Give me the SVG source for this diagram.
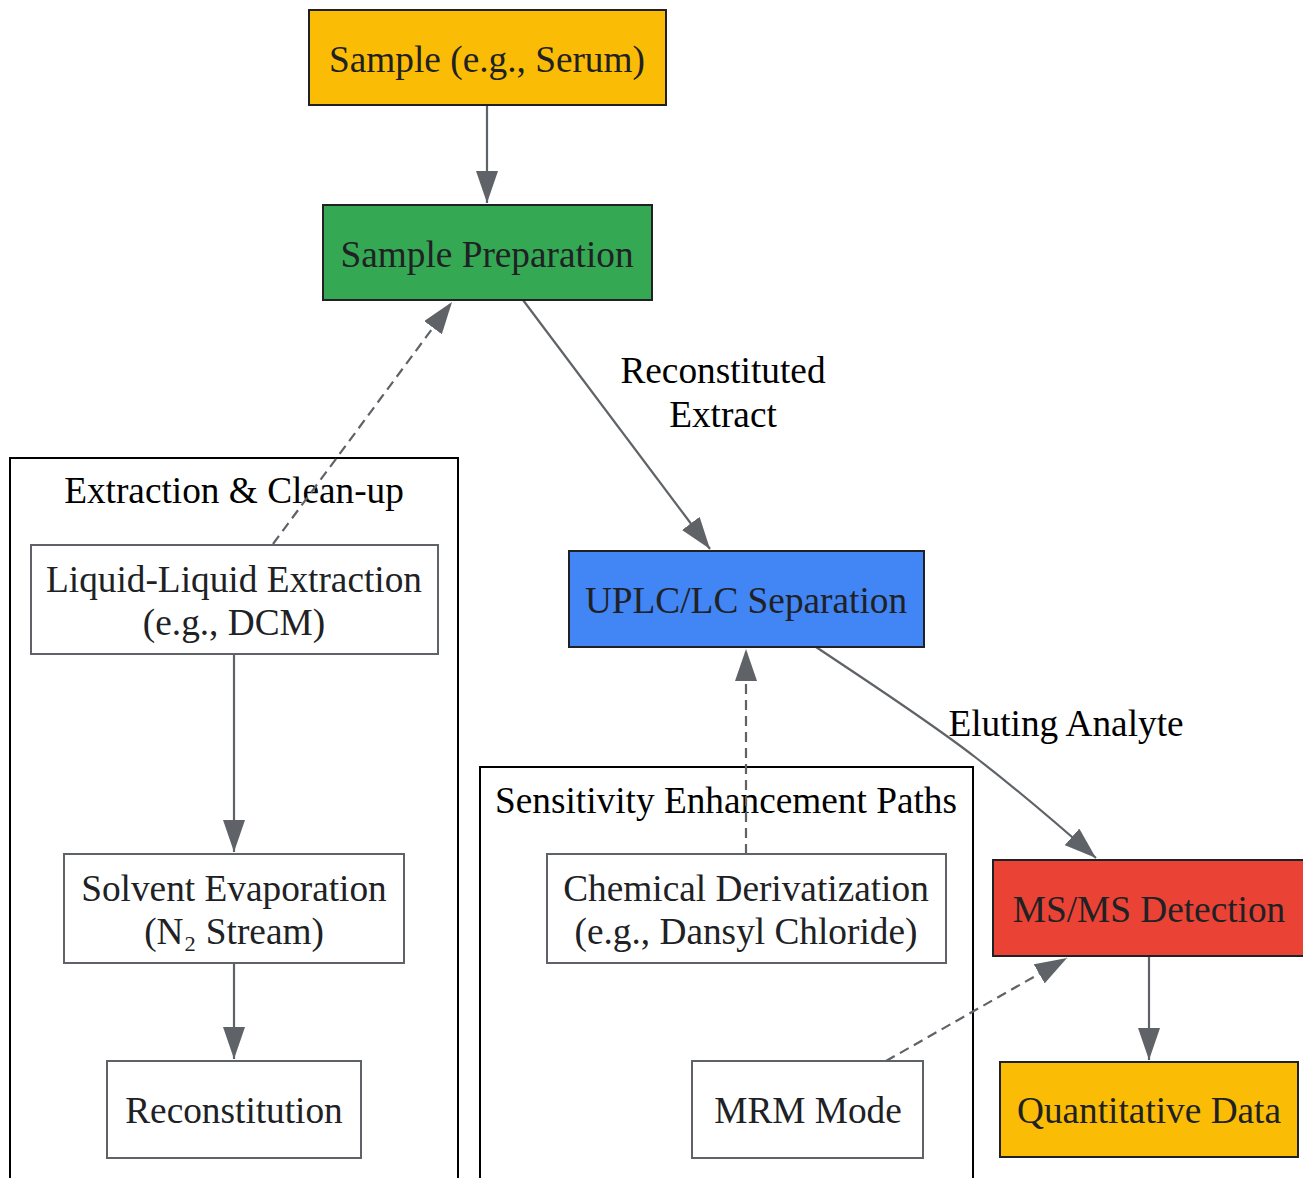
<svg xmlns="http://www.w3.org/2000/svg" width="1303" height="1178" viewBox="0 0 1303 1178">
<style>
text{font-family:"Liberation Serif","Times New Roman",serif;font-size:37.3px;text-anchor:middle}
.nt{fill:#202124}
.lt{fill:#000}
.cl{fill:none;stroke:#000;stroke-width:2}
.wn{fill:#fff;stroke:#5F6368;stroke-width:2}
.cn{stroke:#202124;stroke-width:2}
.e{fill:none;stroke:#5F6368;stroke-width:2.2}
.d{stroke-dasharray:10,6}
</style>
<defs>
<marker id="ah" markerUnits="userSpaceOnUse" markerWidth="32" markerHeight="22" refX="32" refY="11" orient="auto">
<path d="M0,0 L32,11 L0,22 z" fill="#5F6368"/>
</marker>
</defs>
<rect width="1303" height="1178" fill="#fff"/>
<g id="cluster_extraction">
<rect class="cl" x="10" y="458" width="448" height="730"/>
<text class="lt" x="234" y="503">Extraction &amp; Clean-up</text>
</g>
<g id="cluster_sensitivity">
<rect class="cl" x="480" y="767" width="493" height="421"/>
<text class="lt" x="726" y="813">Sensitivity Enhancement Paths</text>
</g>
<g id="connectors">
<path class="e" d="M487,105 L487,203" marker-end="url(#ah)"/>
<path class="e d" d="M273,544 L452,302" marker-end="url(#ah)"/>
<path class="e" d="M523,300 L710,549" marker-end="url(#ah)"/>
<path class="e" d="M234,654 L234,852" marker-end="url(#ah)"/>
<path class="e" d="M234,963 L234,1059" marker-end="url(#ah)"/>
<path class="e d" d="M746,854 L746,649" marker-end="url(#ah)"/>
<path class="e" d="M816,647 C870,683 930,722 975,757 C1010,784 1045,813 1096,858" marker-end="url(#ah)"/>
<path class="e d" d="M886,1061 L1067,958" marker-end="url(#ah)"/>
<path class="e" d="M1149,956 L1149,1060" marker-end="url(#ah)"/>
<text class="lt" x="723" y="383">Reconstituted</text>
<text class="lt" x="723" y="427">Extract</text>
<text class="lt" x="1066" y="736">Eluting Analyte</text>
</g>
<g id="node_sample">
<rect class="cn" x="309" y="10" width="357" height="95" fill="#FBBC05"/>
<text class="nt" x="487" y="72">Sample (e.g., Serum)</text>
</g>
<g id="node_prep">
<rect class="cn" x="323" y="205" width="329" height="95" fill="#34A853"/>
<text class="nt" x="487" y="267">Sample Preparation</text>
</g>
<g id="node_lle">
<rect class="wn" x="31" y="545" width="407" height="109"/>
<text class="nt" x="234" y="592">Liquid-Liquid Extraction</text>
<text class="nt" x="234" y="635">(e.g., DCM)</text>
</g>
<g id="node_evap">
<rect class="wn" x="64" y="854" width="340" height="109"/>
<text class="nt" x="234" y="901">Solvent Evaporation</text>
<text class="nt" x="234" y="944">(N₂ Stream)</text>
</g>
<g id="node_recon">
<rect class="wn" x="107" y="1061" width="254" height="97"/>
<text class="nt" x="234" y="1123">Reconstitution</text>
</g>
<g id="node_uplc">
<rect class="cn" x="569" y="551" width="355" height="96" fill="#4285F4"/>
<text class="nt" x="746" y="613">UPLC/LC Separation</text>
</g>
<g id="node_deriv">
<rect class="wn" x="547" y="854" width="399" height="109"/>
<text class="nt" x="746" y="901">Chemical Derivatization</text>
<text class="nt" x="746" y="944">(e.g., Dansyl Chloride)</text>
</g>
<g id="node_mrm">
<rect class="wn" x="692" y="1061" width="231" height="97"/>
<text class="nt" x="808" y="1123">MRM Mode</text>
</g>
<g id="node_msms">
<rect class="cn" x="993" y="860" width="312" height="96" fill="#EA4335"/>
<text class="nt" x="1149" y="922">MS/MS Detection</text>
</g>
<g id="node_quant">
<rect class="cn" x="1000" y="1062" width="298" height="95" fill="#FBBC05"/>
<text class="nt" x="1149" y="1123">Quantitative Data</text>
</g>
</svg>
